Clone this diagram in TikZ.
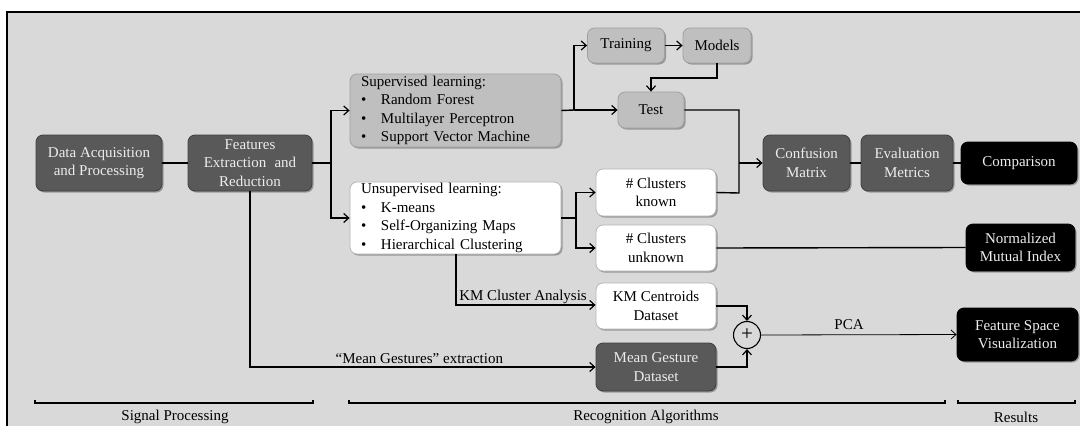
\documentclass[tikz,border=0pt]{standalone}
\usepackage{fontspec}
\setmainfont{Liberation Serif}
\usetikzlibrary{arrows.meta,shadows,calc}
\definecolor{bgc}{HTML}{D9D9D9}
\definecolor{darkc}{HTML}{595959}
\definecolor{darkb}{HTML}{404040}
\definecolor{lightc}{HTML}{BFBFBF}
\definecolor{lightb}{HTML}{A0A0A0}
\definecolor{whiteb}{HTML}{B5B5B5}
\tikzset{
  box/.style={rounded corners=7pt, inner sep=0pt, align=center,
    font=\fontsize{15}{18.5}\selectfont,
    drop shadow={shadow xshift=1.5pt,shadow yshift=-1.5pt,opacity=0.3,fill=black}},
  darkbox/.style={box, fill=darkc, draw=darkb, line width=0.8pt, text=white!93!black},
  graybox/.style={box, fill=lightc, draw=lightb, line width=0.8pt, text=black},
  whitebox/.style={box, fill=white, draw=whiteb, line width=0.8pt, text=black},
  blackbox/.style={box, fill=black, draw=black, line width=0.8pt, text=white!93!black},
  conn/.style={line width=1.4pt, draw=black},
  arr/.style={conn, -{Straight Barb[length=5pt,width=9pt,line width=1.2pt]}},
  thinarr/.style={line width=0.8pt, -{Straight Barb[length=5pt,width=9pt,line width=0.8pt]}},
  lbl/.style={font=\fontsize{15}{18.5}\selectfont, inner sep=0pt, text=black},
  brk/.style={line width=2.2pt, line cap=butt},
}
\newcommand{\bl}{\makebox[20pt][l]{\textbullet}}
\begin{document}
\begin{tikzpicture}[x=1pt,y=-1pt]
\useasboundingbox (0,0) rectangle (1080,426);
\clip (0,0) rectangle (1080,426);
\fill[white] (0,0) rectangle (1080,426);
\draw[fill=bgc, line width=2pt] (7,12) rectangle (1095,440);

% nodes
\node[darkbox, minimum width=126pt, minimum height=56pt] (da) at (99,163) {Data Acquisition\\and Processing};
\node[darkbox, minimum width=124pt, minimum height=56pt] (fe) at (250,163) {Features\\Extraction\hspace{0.55em}and\\Reduction};
\node[graybox, minimum width=211pt, minimum height=73pt, text width=189pt, inner xsep=11pt, align=left] (sup) at (455.5,110.5)
  {Supervised learning:\\\bl Random Forest\\\bl Multilayer Perceptron\\\bl Support Vector Machine};
\node[whitebox, minimum width=211pt, minimum height=72pt, text width=189pt, inner xsep=11pt, align=left] (uns) at (455.5,218)
  {Unsupervised learning:\\\bl K-means\\\bl Self-Organizing Maps\\\bl Hierarchical Clustering};
\node[graybox, minimum width=77pt, minimum height=35pt] (train) at (626,45.5) {Training};
\node[graybox, minimum width=68pt, minimum height=35pt] (models) at (717,45.5) {Models};
\node[graybox, minimum width=66pt, minimum height=36pt] (test) at (651,110) {Test};
\node[whitebox, minimum width=120pt, minimum height=47pt] (ck) at (656,192.5) {\# Clusters\\known};
\node[whitebox, minimum width=120pt, minimum height=46pt] (cu) at (656,248) {\# Clusters\\unknown};
\node[whitebox, minimum width=120pt, minimum height=46pt] (km) at (656,306) {KM Centroids\\Dataset};
\node[darkbox, minimum width=120pt, minimum height=48pt] (mg) at (656,367) {Mean Gesture\\Dataset};
\node[darkbox, minimum width=87pt, minimum height=56pt] (cm) at (806.5,163) {Confusion\\Matrix};
\node[darkbox, minimum width=92pt, minimum height=56pt] (em) at (907,163) {Evaluation\\Metrics};
\node[blackbox, minimum width=116pt, minimum height=42pt] (comp) at (1019,163) {Comparison};
\node[blackbox, minimum width=109pt, minimum height=47pt] (nmi) at (1020.5,247.5) {Normalized\\Mutual Index};
\node[blackbox, minimum width=121pt, minimum height=53pt] (fsv) at (1017.5,334.5) {Feature Space\\Visualization};
\node[circle, draw, line width=1.1pt, minimum size=27pt, inner sep=0pt, font=\fontsize{21}{21}\selectfont] (plus) at (747,335) {+};

% junction coordinates
\coordinate (j1) at (331,163);
\coordinate (j2) at (574,110);
\coordinate (j3) at (739,163);
\coordinate (j4) at (576,218);
\coordinate (m1) at (717,78);
\coordinate (m2) at (651,78);
\coordinate (t1) at (739,110);
\coordinate (t2) at (739,193);
\coordinate (k1) at (456,305);
\coordinate (f1) at (250,367);
\coordinate (p1) at (747,306);
\coordinate (p2) at (747,367);

% connectors
\draw[conn] (da.east) -- (fe.west);
\draw[conn] (fe.east) -- (j1);
\draw[arr] (j1) |- (sup.west);
\draw[arr] (j1) |- (uns.west);
\draw[conn] (sup.east) -- (j2);
\draw[arr] (j2) |- (train.west);
\draw[arr] (j2) -- (test.west);
\draw[arr] (train.east) -- (models.west);
\draw[arr] (models.south) -- (m1) -- (m2) -- (test.north);
\draw[conn] (test.east) -- (t1) -- (t2) -- (ck.east);
\draw[arr] (j3) -- (cm.west);
\draw[conn] (uns.east) -- (j4);
\draw[arr] (j4) |- (ck.west);
\draw[arr] (j4) |- (cu.west);
\draw[conn] (cm.east) -- (em.west);
\draw[conn] (em.east) -- (comp.west);
\draw[conn] (cu.east) -- (nmi.west);
\draw[arr] (uns.south -| k1) -- (k1) -- node[lbl, above=1pt, pos=0.48] {KM Cluster Analysis} (km.west |- k1);
\draw[arr] (fe.south) -- (f1) -- node[lbl, above=3pt, pos=0.49] {“Mean Gestures” extraction} (mg.west |- f1);
\draw[arr] (km.east |- p1) -- (p1) -- (plus.north);
\draw[arr] (mg.east |- p2) -- (p2) -- (plus.south);
\draw[thinarr] (plus.east) -- node[lbl, above=5pt, pos=0.45] {PCA} (fsv.west);

% brackets
\coordinate (b1a) at (35,403); \coordinate (b1b) at (313,403);
\coordinate (b2a) at (349,403); \coordinate (b2b) at (945,403);
\coordinate (b3a) at (958,403); \coordinate (b3b) at (1075,403);
\draw[brk] ($(b1a)+(0,-3)$) -- (b1a) -- (b1b) -- ($(b1b)+(0,-3)$);
\draw[brk] ($(b2a)+(0,-3)$) -- (b2a) -- (b2b) -- ($(b2b)+(0,-3)$);
\draw[brk] ($(b3a)+(0,-3)$) -- (b3a) -- (b3b) -- ($(b3b)+(0,-3)$);
\node[lbl] (sp) at (175,417) {Signal Processing};
\node[lbl] (ra) at (646,417) {Recognition Algorithms};
\node[lbl] (rs) at (1016,417) {Results};
\end{tikzpicture}
\end{document}
